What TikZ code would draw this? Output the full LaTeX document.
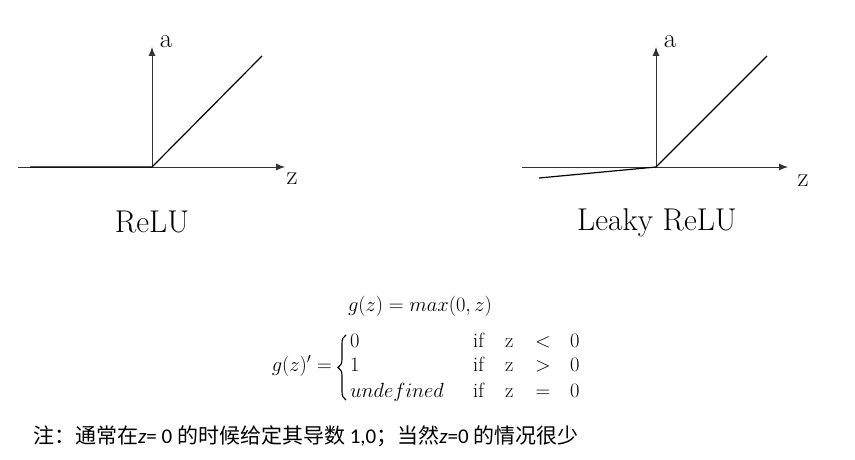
\RequirePackage{fix-cm}
\documentclass[tikz,border=0pt]{standalone}
\usepackage{fontspec}
\newfontfamily\cjk{Noto Sans CJK SC}
\newfontfamily\carl{Carlito}
\usetikzlibrary{arrows.meta,decorations.pathreplacing}
\begin{document}
\begin{tikzpicture}[x=1pt,y=-1pt,
  axisline/.style={draw=black!80, line width=0.9pt, -{Latex[length=9pt,width=7pt]}},
  fnline/.style={draw=black, line width=1.2pt},
  casebrace/.style={draw=black, line width=1.1pt, decorate, decoration={brace, amplitude=8pt}},
  axlbl/.style={inner sep=0pt, font=\fontsize{27}{30}\selectfont},
  title/.style={inner sep=0pt, anchor=base, font=\fontsize{31.5}{36}\selectfont},
  fml/.style={inner sep=0pt, font=\fontsize{20.5}{24}\selectfont},
  note/.style={inner sep=0pt, anchor=base west, font=\fontsize{21}{24}\selectfont}]
\useasboundingbox (0,0) rectangle (855,460);
% ---- ReLU ----
\coordinate (o1) at (152,167);
\coordinate (x1s) at (18,167);
\coordinate (x1e) at (285,167);
\coordinate (y1e) at (152,47);
\coordinate (f1l) at (30,167);
\coordinate (f1r) at (262,56);
\draw[axisline] (x1s) -- (x1e);
\draw[axisline] (o1) -- (y1e);
\draw[fnline] (f1l) -- (o1) -- (f1r);
\node[axlbl] (a1) at (166,42) {a};
\node[axlbl] (z1) at (292,179) {z};
\node[title] (t1) at (152,232) {ReLU};
% ---- Leaky ReLU ----
\coordinate (o2) at (656,167);
\coordinate (x2s) at (522,167);
\coordinate (x2e) at (788,167);
\coordinate (y2e) at (656,47);
\coordinate (f2l) at (539,178);
\coordinate (f2r) at (767,56);
\draw[axisline] (x2s) -- (x2e);
\draw[axisline] (o2) -- (y2e);
\draw[fnline] (f2l) -- (o2) -- (f2r);
\node[axlbl] (a2) at (670,42) {a};
\node[axlbl] (z2) at (803,181) {z};
\node[title] (t2) at (657,230) {Leaky ReLU};
% ---- formulas ----
\node[fml, anchor=base] (g) at (420,311) {$g(z) = max(0,z)$};
\node[fml, anchor=base east] (gp) at (332,371) {$g(z)' =$};
\coordinate (bb) at (346,400);
\coordinate (bt) at (346,335);
\draw[casebrace] (bb) -- (bt);
\node[fml, anchor=base west] (c1) at (350,347) {$0$};
\node[fml, anchor=base west] (c2) at (350,371) {$1$};
\node[fml, anchor=base west] (c3) at (350,397) {$undefined$};
\node[fml, anchor=base west] (i1) at (473,347) {$\mathrm{if}$};
\node[fml, anchor=base west] (i2) at (473,371) {$\mathrm{if}$};
\node[fml, anchor=base west] (i3) at (473,397) {$\mathrm{if}$};
\node[fml, anchor=base west] (v1) at (505,347) {$\mathrm{z}$};
\node[fml, anchor=base west] (v2) at (505,371) {$\mathrm{z}$};
\node[fml, anchor=base west] (v3) at (505,397) {$\mathrm{z}$};
\node[fml, anchor=base] (r1) at (543,347) {$<$};
\node[fml, anchor=base] (r2) at (543,371) {$>$};
\node[fml, anchor=base] (r3) at (543,397) {$=$};
\node[fml, anchor=base west] (n1) at (570,347) {$0$};
\node[fml, anchor=base west] (n2) at (570,371) {$0$};
\node[fml, anchor=base west] (n3) at (570,397) {$0$};
% ---- note ----
\node[note] (nt) at (33,443) {{\cjk 注：通常在}{\carl\itshape z}{\carl = 0 }{\cjk 的时候给定其导数}{\carl\ 1,0}{\cjk ；当然}{\carl\itshape z}{\carl =0 }{\cjk 的情况很少}};
\end{tikzpicture}
\end{document}
